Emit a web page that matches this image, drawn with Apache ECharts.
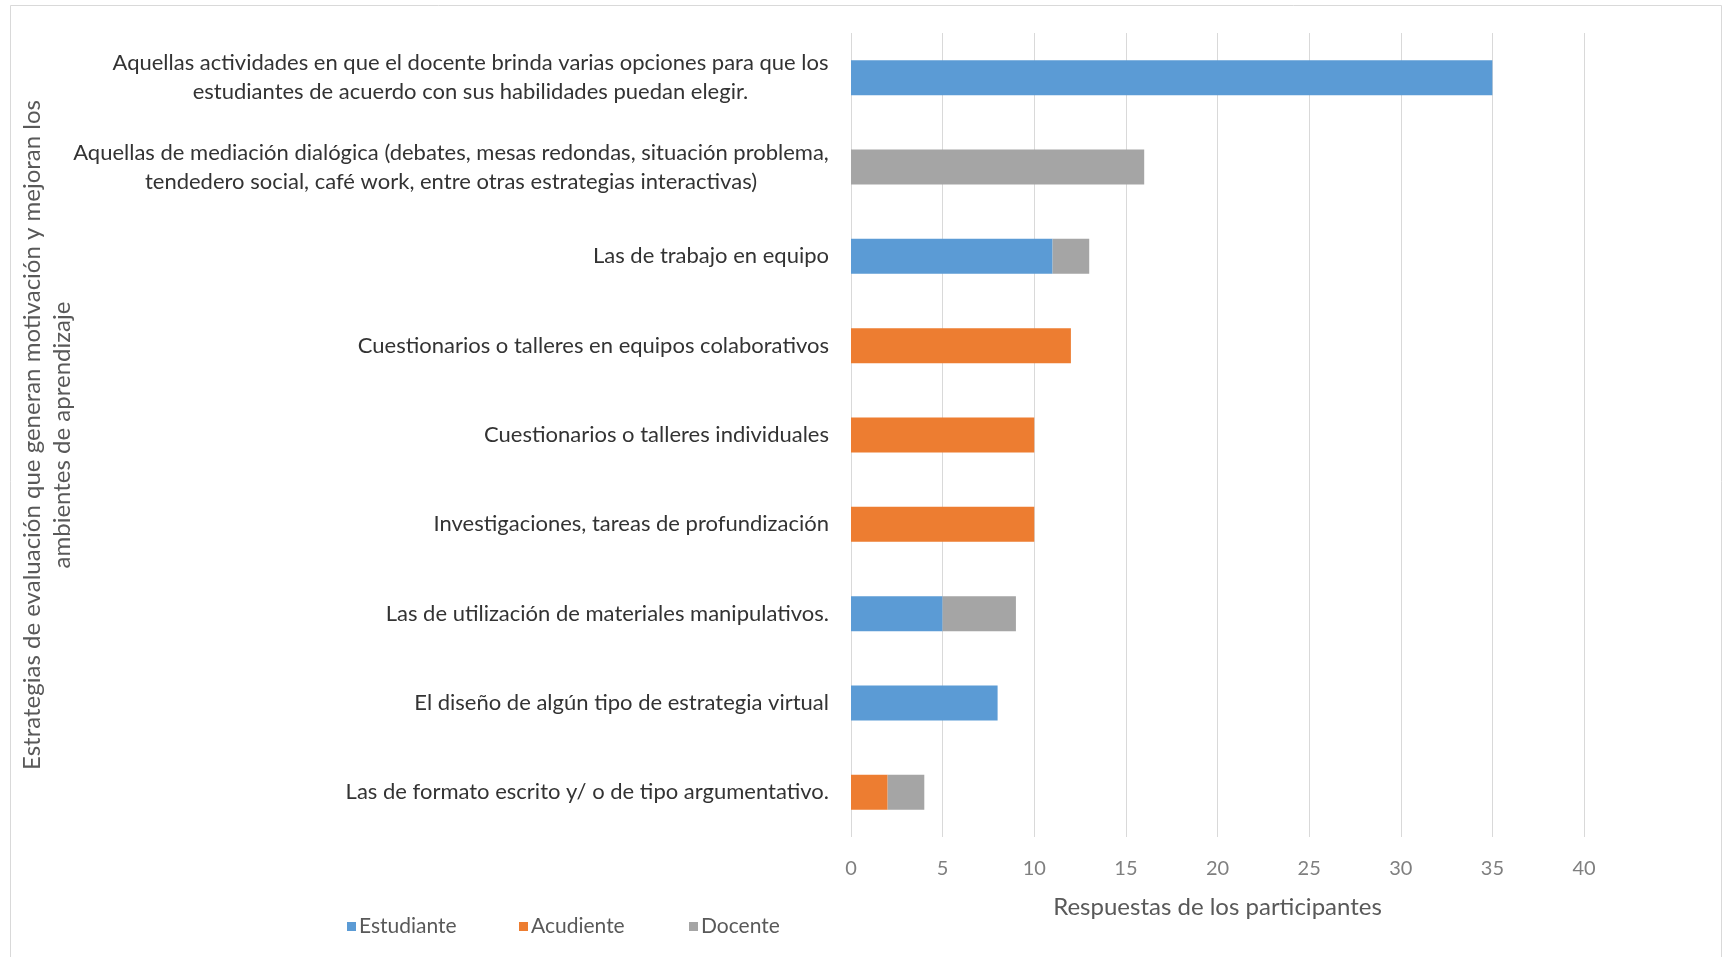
<!DOCTYPE html>
<html>
<head>
<meta charset="utf-8">
<script src="https://cdn.jsdelivr.net/npm/echarts@6/dist/echarts.min.js"></script>
<style>
  html, body { margin: 0; padding: 0; background: #fff; }
  #chart { width: 1728px; height: 957px; }
</style>
</head>
<body>
<div id="chart"></div>
<script>
// Strategies (top to bottom) and responses per participant group
const categories = [
  'Aquellas actividades en que el docente brinda varias opciones para que los\nestudiantes de acuerdo con sus habilidades puedan elegir.',
  'Aquellas de mediación dialógica (debates, mesas redondas, situación problema,\ntendedero social, café work, entre otras estrategias interactivas)',
  'Las de trabajo en equipo',
  'Cuestionarios o talleres en equipos colaborativos',
  'Cuestionarios o talleres individuales',
  'Investigaciones, tareas de profundización',
  'Las de utilización de materiales manipulativos.',
  'El diseño de algún tipo de estrategia virtual',
  'Las de formato escrito y/ o de tipo argumentativo.'
];
const estudiante = [35, 0, 11, 0, 0, 0, 5, 8, 0];
const acudiente  = [0, 0, 0, 12, 10, 10, 0, 0, 2];
const docente    = [0, 16, 2, 0, 0, 0, 4, 0, 2];
const seriesNames = ['Estudiante', 'Acudiente', 'Docente'];
const xTicks = { min: 0, max: 40, interval: 5 };
const xTitle = 'Respuestas de los participantes';
const yTitle = 'Estrategias de evaluación que generan motivación y mejoran los\nambientes de aprendizaje';

const labelFont = 'Lato, "Open Sans", sans-serif';
const labelSize = 22;
const labelColor = '#333';

// Two-line category labels: centre each line inside a box as wide as its longest line
const ctx = document.createElement('canvas').getContext('2d');
ctx.font = labelSize + 'px ' + labelFont;
const rich = {};
const labelKey = {};
categories.forEach((c, i) => {
  const lines = c.split('\n');
  if (lines.length > 1) {
    const w = Math.ceil(Math.max(...lines.map(l => ctx.measureText(l).width)));
    rich['m' + i] = { width: w, align: 'center', fontSize: labelSize, fontFamily: labelFont, color: labelColor, lineHeight: 29 };
    labelKey[c] = 'm' + i;
  }
});

const chart = echarts.init(document.getElementById('chart'));
const colors = ['#5B9BD5', '#ED7D31', '#A5A5A5'];
const values = [estudiante, acudiente, docente];
const legendLeft = [342, 514, 684];

chart.setOption({
  animation: false,
  color: colors,
  graphic: [{
    type: 'rect',
    shape: { x: 10.5, y: 5.5, width: 1711, height: 960 },
    style: { fill: 'none', stroke: '#d9d9d9', lineWidth: 1 },
    silent: true
  }],
  grid: { left: 851, right: 144, top: 33, bottom: 120, containLabel: false, outerBoundsMode: 'none' },
  legend: seriesNames.map((n, i) => ({
    left: legendLeft[i],
    top: 911,
    itemWidth: 9,
    itemHeight: 9,
    itemGap: 0,
    icon: 'rect',
    textStyle: { color: '#595959', fontSize: 21, fontFamily: labelFont, padding: [0, 0, 0, -2] },
    data: [n]
  })),
  xAxis: {
    type: 'value',
    min: xTicks.min,
    max: xTicks.max,
    interval: xTicks.interval,
    name: xTitle,
    nameLocation: 'middle',
    nameGap: 58,
    nameMoveOverlap: false,
    nameTextStyle: { color: '#595959', fontSize: 24, fontFamily: labelFont },
    axisLine: { show: false },
    axisTick: { show: false },
    axisLabel: { color: '#7f7f7f', fontSize: 20, fontFamily: labelFont, margin: 22 },
    splitLine: { show: true, lineStyle: { color: '#d9d9d9', width: 1 } }
  },
  yAxis: {
    type: 'category',
    inverse: true,
    data: categories,
    name: yTitle,
    nameLocation: 'middle',
    nameRotate: 90,
    nameGap: 774,
    nameMoveOverlap: false,
    nameTextStyle: { color: '#595959', fontSize: 24, fontFamily: labelFont, lineHeight: 30 },
    axisLine: { show: false },
    axisTick: { show: false },
    axisLabel: {
      margin: 22,
      color: labelColor,
      fontSize: labelSize,
      fontFamily: labelFont,
      lineHeight: 29,
      rich: rich,
      formatter: function (v) {
        const k = labelKey[v];
        if (!k) return v;
        return v.split('\n').map(l => '{' + k + '|' + l + '}').join('\n');
      }
    }
  },
  series: seriesNames.map((n, i) => ({
    name: n,
    type: 'bar',
    stack: 'total',
    barWidth: 35,
    data: values[i],
    itemStyle: { color: colors[i] }
  }))
});
</script>
</body>
</html>
